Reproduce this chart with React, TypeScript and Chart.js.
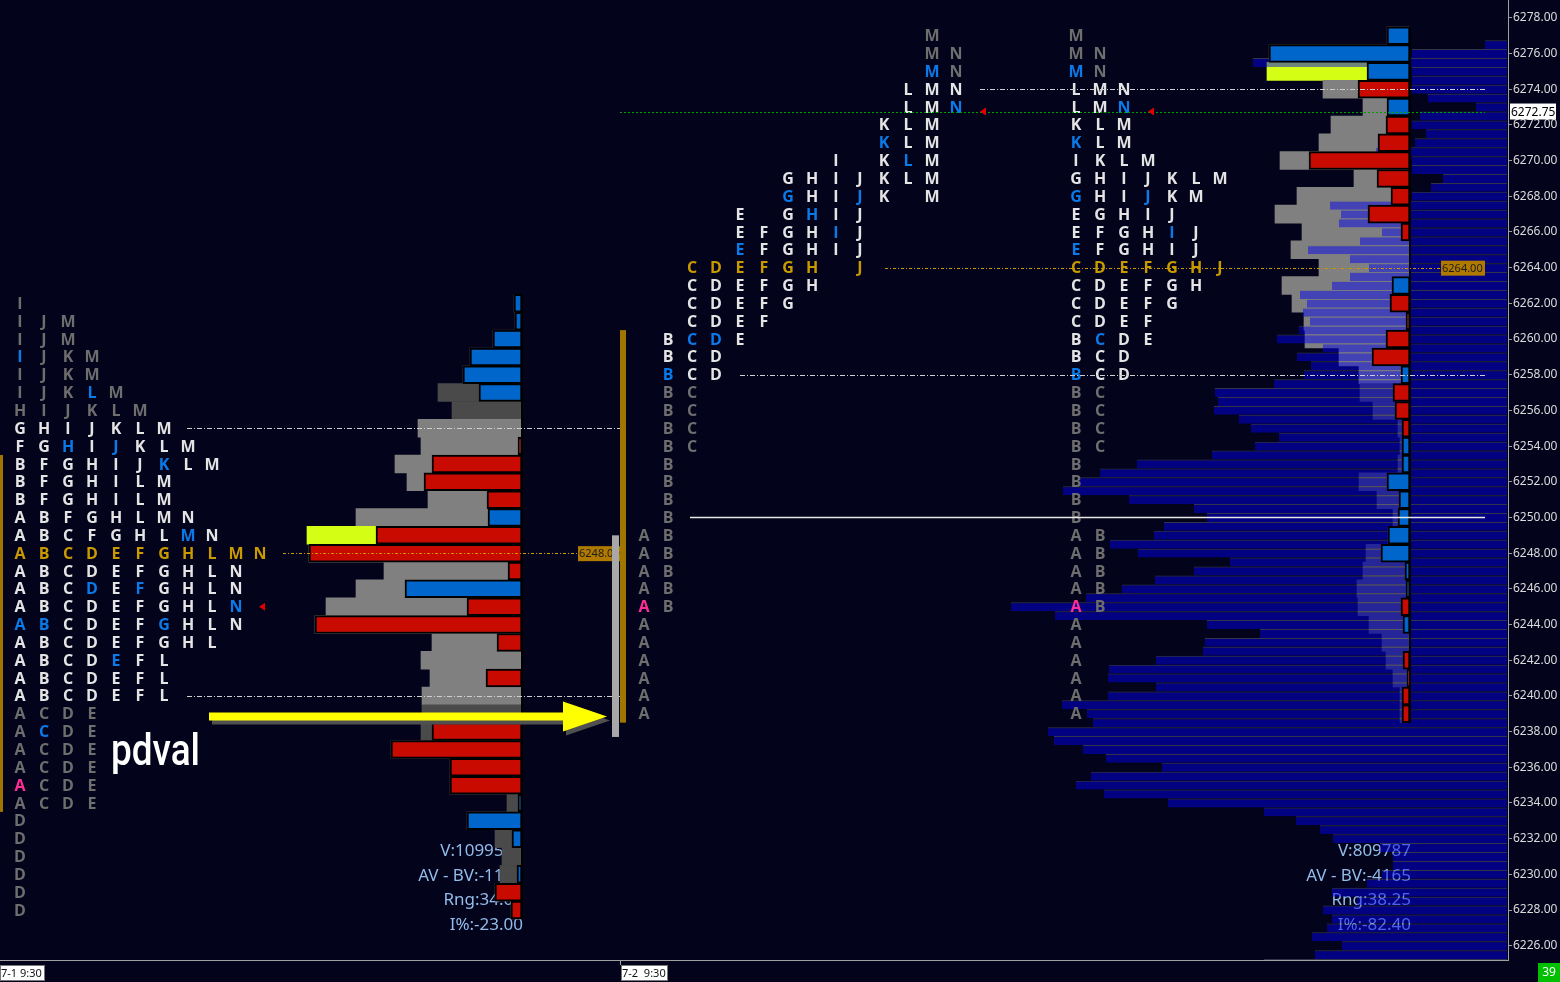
import { useEffect, useRef } from "react";
import { Chart, registerables } from "chart.js";

Chart.register(...registerables);

// ---------------- data ----------------
const priceTicks = [6226, 6228, 6230, 6232, 6234, 6236, 6238, 6240, 6242, 6244, 6246, 6248, 6250, 6252, 6254, 6256, 6258, 6260, 6262, 6264, 6266, 6268, 6270, 6272, 6274, 6276, 6278];
const sessionLabels = ["7-1 9:30", "7-2  9:30"];
const barCountLabel = "39";
const lastPrice = 6272.75;

// Day 1 (7-1): TPO rows from top price downward. "*" = blue, "!" = open (magenta)
const day1TopPrice = 6262;
const day1Tpo = [
  "I", "IJM", "IJM", "I*JKM", "IJKM", "IJKL*M", "HIJKLM", "GHIJKLM",
  "FGH*IJ*KLM", "BFGHIJK*LM", "BFGHILM", "BFGHILM", "ABFGHLMN", "ABCFGHLM*N",
  "ABCDEFGHLMN", "ABCDEFGHLN", "ABCD*EF*GHLN", "ABCDEFGHLN*", "A*B*CDEFG*HLN",
  "ABCDEFGHL", "ABCDE*FL", "ABCDEFL", "ABCDEFL", "ACDE", "AC*DE", "ACDE", "ACDE",
  "A!CDE", "ACDE", "D", "D", "D", "D", "D", "D",
];
const day1Vah = 6255;
const day1Val = 6240;
const day1Poc = 6248;
const day1HighVolPrice = 6249;
const day1Volume = [8, 7, 29, 52, 59, 84, 70, 104, 101, 127, 115, 94, 166, 215, 213, 138, 166, 196, 207, 90, 101, 92, 100, 100, 101, 131, 72, 72, 15, 55, 27, 20, 22, 27, 11];
const day1Delta = [8, 7, 29, 52, 59, 43, 0, 0, -4, -90, -98, -35, 34, -146, -213, -14, 117, -55, -207, -25, 0, -36, 0, 0, -90, -131, -72, -72, 4, 55, 10, 0, 5, -27, -11];
const day1Stats = ["V:1099512", "AV - BV:-1126", "Rng:34.00", "I%:-23.00"];
const day1InitialBalance = [6233.5, 6253.5];

// Day 2 (7-2): "+" = blue only in the split profile
const day2TopPrice = 6277;
const day2Tpo = [
  "M", "MN", "M*N", "LMN", "LMN*", "KLM", "K*LM", "IKL+M", "GHIJKLM", "G*HIJ*KM",
  "EGH+IJ", "EFGHI*J", "E*FGHIJ", "CDEFGHJ", "CDEFGH", "CDEFG", "CDEF", "BC*D+E",
  "BCD", "B*CD", "BC", "BC", "BC", "BC", "B", "B", "B", "B", "AB", "AB", "AB", "AB",
  "A!B", "A", "A", "A", "A", "A", "A",
];
const day2Vah = 6274;
const day2Val = 6258;
const day2Poc = 6264;
const day2HighVolPrice = 6275;
const day2Volume = [23, 141, 143, 87, 47, 79, 91, 130, 56, 113, 135, 108, 119, 91, 128, 118, 106, 105, 71, 51, 50, 37, 12, 10, 12, 51, 33, 17, 22, 44, 47, 53, 52, 41, 28, 24, 17, 10, 10];
const day2Delta = [23, 141, 43, -52, 23, -24, -32, -101, -33, -19, -42, -9, 0, 0, 18, -20, -4, -24, -38, 9, -17, -15, -8, 8, 8, 23, 11, 12, 22, 29, 5, 4, -9, 7, 0, -7, -3, -8, -8];
const day2Stats = ["V:809787", "AV - BV:-4165", "Rng:38.25", "I%:-82.40"];
const day2InitialBalance = [6238.5, 6260.5];
const day2OpeningRange = [6237.7, 6249.0];
const day2Marker = 6250;

// Composite volume profile, half-point rows from the top price downward
const compositeTopPrice = 6276.5;
const compositeStep = 0.5;
const compositeVolume = [
  22, 95, 254, 95, 95, 95, 79, 31, 87, 95,          // 6276.5 - 6272.0
  81, 92, 131, 95, 95, 64, 76, 95, 177, 166,       // 6271.5 - 6267.0
  168, 125, 147, 199, 157, 138, 157, 175, 207, 200, // 6266.5 - 6262.0
  204, 197, 208, 230, 184, 210, 196, 203, 233, 292, // 6261.5 - 6257.0
  289, 293, 268, 256, 228, 252, 295, 370, 407, 427, // 6256.5 - 6252.0
  444, 378, 313, 300, 343, 353, 397, 369, 277, 313, // 6251.5 - 6247.0
  352, 385, 421, 496, 452, 300, 247, 302, 304, 351, // 6246.5 - 6242.0
  398, 399, 351, 399, 445, 420, 414, 459, 453, 424, // 6241.5 - 6237.0
  401, 345, 416, 431, 403, 339, 243, 211, 187, 174, // 6236.5 - 6232.0
  127, 114, 114, 125, 140, 175, 150, 184, 175, 180, // 6231.5 - 6227.0
  195, 165, 192, 243,                               // 6226.5 - 6225.0
];

// ---------------- layout / style ----------------
const X_MAX = 1508;
const Y_MIN = 6225.2;
const Y_MAX = 6279.0;
const ROW_PX = 960 / (Y_MAX - Y_MIN);
const DAY1_ANCHOR = 522;
const DAY2_ANCHOR = 1410;
const COMPOSITE_ANCHOR = 1507;
const DAY1_COL0 = 20;
const DAY2_SPLIT_COL0 = 644;
const DAY2_COL0 = 1076;
const COL_STEP = 24;

const BG = "#03031b";
const C_GRAY_TXT = "#6e6e6e";
const C_WHITE_TXT = "#e4e4e4";
const C_GOLD = "#c99a00";
const C_BLUE_TXT = "#0a7ae8";
const C_MAGENTA = "#ff2d96";
const C_RED = "#c80a00";
const C_BLUE = "#0066cc";
const C_LIGHT = "#808080";
const C_DARK = "#4a4a4a";
const C_HIGH = "#d4ff14";
const C_STATS = "#92bce9";

function parseRow(s: string) {
  const out: { ch: string; mark: string }[] = [];
  for (const c of s) {
    if (c === "*" || c === "+" || c === "!") {
      if (out.length) out[out.length - 1].mark = c;
    } else out.push({ ch: c, mark: "" });
  }
  return out;
}

function volColors(vol: number[], top: number, vah: number, val: number, hi: number) {
  return vol.map((_, i) => {
    const p = top - i;
    if (p === hi) return C_HIGH;
    return p <= vah && p >= val ? C_LIGHT : C_DARK;
  });
}

function deltaPoints(delta: number[], top: number, anchor: number) {
  return delta
    .map((d, i) => ({ d, p: top - i }))
    .filter((o) => o.d !== 0)
    .map((o) => ({ x: [anchor - Math.abs(o.d), anchor], y: o.p, pos: o.d > 0 }));
}

const overlayPlugin = {
  id: "overlay",
  beforeDraw(chart: any) {
    const ctx = chart.ctx;
    ctx.save();
    ctx.fillStyle = BG;
    ctx.fillRect(0, 0, chart.width, chart.height);
    ctx.restore();
  },
  beforeDatasetsDraw(chart: any) {
    const ctx = chart.ctx;
    const xs = chart.scales.x;
    const bottom = chart.chartArea.bottom;
    ctx.save();
    ctx.font = "17px 'Noto Sans', sans-serif";
    ctx.fillStyle = C_STATS;
    ctx.textAlign = "right";
    ctx.textBaseline = "middle";
    const offs = [109, 84, 60, 35];
    day1Stats.forEach((t, i) => ctx.fillText(t, xs.getPixelForValue(DAY1_ANCHOR + 1), bottom - offs[i]));
    day2Stats.forEach((t, i) => ctx.fillText(t, xs.getPixelForValue(DAY2_ANCHOR + 1), bottom - offs[i]));
    ctx.restore();
  },
  afterDatasetsDraw(chart: any) {
    const ctx = chart.ctx;
    const xs = chart.scales.x;
    const ys = chart.scales.y;
    const X = (v: number) => xs.getPixelForValue(v);
    const Y = (p: number) => ys.getPixelForValue(p);

    const hline = (p: number, x0: number, x1: number, color: string, dash: number[], w = 1) => {
      const y = Math.round(Y(p)) + 0.5;
      ctx.save();
      ctx.strokeStyle = color;
      ctx.lineWidth = w;
      ctx.setLineDash(dash);
      ctx.beginPath();
      ctx.moveTo(X(x0), y);
      ctx.lineTo(X(x1), y);
      ctx.stroke();
      ctx.restore();
    };
    const vrect = (x0: number, x1: number, p0: number, p1: number, color: string) => {
      ctx.fillStyle = color;
      ctx.fillRect(X(x0), Y(p1), X(x1) - X(x0), Y(p0) - Y(p1));
    };

    ctx.save();
    // profile edges
    ctx.strokeStyle = "#000";
    ctx.lineWidth = 2;
    ctx.beginPath();
    ctx.moveTo(X(DAY1_ANCHOR), Y(day1TopPrice + 0.5));
    ctx.lineTo(X(DAY1_ANCHOR), Y(day1TopPrice - day1Volume.length + 0.5));
    ctx.moveTo(X(DAY2_ANCHOR), Y(day2TopPrice + 0.5));
    ctx.lineTo(X(DAY2_ANCHOR), Y(day2TopPrice - day2Volume.length + 0.5));
    ctx.stroke();

    // TPO letters
    ctx.font = "bold 16px 'Open Sans', 'Noto Sans', sans-serif";
    ctx.textAlign = "center";
    ctx.textBaseline = "middle";
    const drawTpo = (rows: string[], top: number, vah: number, val: number, poc: number, split: boolean, col0: number) => {
      rows.forEach((s, i) => {
        const p = top - i;
        const base = p === poc ? C_GOLD : p <= vah && p >= val ? C_WHITE_TXT : C_GRAY_TXT;
        parseRow(s).forEach((t, k) => {
          const col = split ? t.ch.charCodeAt(0) - 65 : k;
          let color = base;
          if (t.mark === "!") color = C_MAGENTA;
          else if (t.mark === "*" || (t.mark === "+" && split)) color = C_BLUE_TXT;
          ctx.fillStyle = color;
          ctx.fillText(t.ch, X(col0 + COL_STEP * col), Y(p) + 1);
        });
      });
    };
    drawTpo(day1Tpo, day1TopPrice, day1Vah, day1Val, day1Poc, false, DAY1_COL0);
    drawTpo(day2Tpo, day2TopPrice, day2Vah, day2Val, day2Poc, true, DAY2_SPLIT_COL0);
    drawTpo(day2Tpo, day2TopPrice, day2Vah, day2Val, day2Poc, false, DAY2_COL0);

    // reference lines
    const dashDot = [5, 2, 1, 2];
    hline(day1Vah, 187, 620, "#cfcfcf", dashDot);
    hline(day1Val, 187, 620, "#cfcfcf", dashDot);
    hline(day1Poc, 283, 578, C_GOLD, [3, 2, 1, 2]);
    hline(day2Vah, 980, 1485, "#cfcfcf", dashDot);
    hline(day2Val, 740, 1485, "#cfcfcf", dashDot);
    hline(day2Poc, 885, 1441, C_GOLD, [3, 2, 1, 2]);
    hline(lastPrice, 620, 1485, "#00a000", [2, 2]);
    hline(day2Marker, 690, 1485, "#e8e8e8", [], 1.5);

    // POC price labels
    ctx.font = "11px 'Noto Sans', sans-serif";
    ctx.textAlign = "left";
    const pocLabel = (x0: number, x1: number, p: number) => {
      const y = Y(p);
      ctx.fillStyle = "#b07a00";
      ctx.fillRect(X(x0), y - 7, X(x1) - X(x0), 15);
      ctx.fillStyle = "#1c1c1c";
      ctx.fillText(p.toFixed(2), X(x0) + 1, y + 1);
    };
    pocLabel(578, 620, day1Poc);
    pocLabel(1441, 1485, day2Poc);

    // initial balance / opening range bars
    vrect(0, 3, day1InitialBalance[0], day1InitialBalance[1], "#a07600");
    vrect(620, 626, day2InitialBalance[0], day2InitialBalance[1], "#a07600");
    vrect(612, 619, day2OpeningRange[0], day2OpeningRange[1], "#a8a8a8");

    // red last-price markers
    ctx.fillStyle = "#e00000";
    const tri = (x: number, p: number) => {
      const px = X(x), py = Y(p);
      ctx.beginPath();
      ctx.moveTo(px - 3, py);
      ctx.lineTo(px + 3, py - 4);
      ctx.lineTo(px + 3, py + 4);
      ctx.closePath();
      ctx.fill();
    };
    tri(262, 6245);
    tri(983, lastPrice);
    tri(1151, lastPrice);

    // yellow arrow + annotation
    const ay = Y(6238.85);
    const ax0 = X(209), ax1 = X(607);
    const arrow = (dx: number, dy: number, color: string) => {
      ctx.fillStyle = color;
      ctx.beginPath();
      ctx.moveTo(ax0 + dx, ay - 4 + dy);
      ctx.lineTo(ax1 - 44 + dx, ay - 4 + dy);
      ctx.lineTo(ax1 - 44 + dx, ay - 15 + dy);
      ctx.lineTo(ax1 + dx, ay + dy);
      ctx.lineTo(ax1 - 44 + dx, ay + 15 + dy);
      ctx.lineTo(ax1 - 44 + dx, ay + 4 + dy);
      ctx.lineTo(ax0 + dx, ay + 4 + dy);
      ctx.closePath();
      ctx.fill();
    };
    arrow(3, 4, "#505050");
    arrow(0, 0, "#ffff00");
    ctx.fillStyle = "#ffffff";
    ctx.font = "500 45px 'Roboto', 'Noto Sans', sans-serif";
    ctx.textAlign = "left";
    ctx.textBaseline = "alphabetic";
    const tw = ctx.measureText("pdval").width;
    ctx.translate(X(111), 765);
    ctx.scale(89 / tw, 1);
    ctx.fillText("pdval", 0, 0);
    ctx.restore();
  },
  afterDraw(chart: any) {
    const ctx = chart.ctx;
    const ys = chart.scales.y;
    const area = chart.chartArea;
    ctx.save();
    // last price box on axis
    const ly = ys.getPixelForValue(lastPrice);
    ctx.fillStyle = "#ffffff";
    ctx.fillRect(area.right + 2, ly - 8, 46, 16);
    ctx.fillStyle = "#000000";
    ctx.font = "12px 'Noto Sans', sans-serif";
    ctx.textAlign = "left";
    ctx.textBaseline = "middle";
    ctx.fillText(lastPrice.toFixed(2), area.right + 3, ly + 1);

    // bottom time strip
    ctx.strokeStyle = "#a0a0a0";
    ctx.lineWidth = 1;
    ctx.beginPath();
    ctx.moveTo(0, area.bottom + 0.5);
    ctx.lineTo(area.right, area.bottom + 0.5);
    ctx.moveTo(620.5, area.bottom);
    ctx.lineTo(620.5, area.bottom + 5);
    ctx.stroke();
    const starts = [0, 621];
    ctx.font = "11px 'Noto Sans', sans-serif";
    sessionLabels.forEach((t, i) => {
      const w = i === 0 ? 45 : 47;
      ctx.fillStyle = "#ffffff";
      ctx.fillRect(starts[i], area.bottom + 5, w, 16);
      ctx.strokeStyle = "#777";
      ctx.strokeRect(starts[i] + 0.5, area.bottom + 5.5, w - 1, 15);
      ctx.fillStyle = "#111";
      ctx.fillText(t, starts[i] + 1, area.bottom + 14);
    });
    // bar counter
    ctx.fillStyle = "#00c000";
    ctx.fillRect(1538, area.bottom + 3, 22, 19);
    ctx.fillStyle = "#ffffff";
    ctx.textAlign = "center";
    ctx.font = "12px 'Noto Sans', sans-serif";
    ctx.fillText(barCountLabel, 1549, area.bottom + 13);
    ctx.restore();
  },
};

export default function App() {
  const ref = useRef<HTMLCanvasElement | null>(null);

  useEffect(() => {
    document.body.style.margin = "0";
    document.body.style.background = BG;
    const canvas = ref.current;
    if (!canvas) return;

    const d1Delta = deltaPoints(day1Delta, day1TopPrice, DAY1_ANCHOR);
    const d2Delta = deltaPoints(day2Delta, day2TopPrice, DAY2_ANCHOR);

    const chart = new Chart(canvas, {
      type: "bar",
      data: {
        datasets: [
          {
            label: "day1 delta",
            data: d1Delta as any,
            backgroundColor: d1Delta.map((o) => (o.pos ? C_BLUE : C_RED)),
            borderColor: "#000000",
            borderWidth: 2,
            borderSkipped: false,
            barThickness: ROW_PX,
            grouped: false,
            order: 1,
          } as any,
          {
            label: "day2 delta",
            data: d2Delta as any,
            backgroundColor: d2Delta.map((o) => (o.pos ? C_BLUE : C_RED)),
            borderColor: "#000000",
            borderWidth: 2,
            borderSkipped: false,
            barThickness: ROW_PX,
            grouped: false,
            order: 1,
          } as any,
          {
            label: "composite",
            data: compositeVolume.map((v, i) => ({ x: [COMPOSITE_ANCHOR - v, COMPOSITE_ANCHOR], y: compositeTopPrice - i * compositeStep })) as any,
            backgroundColor: "rgba(0,0,240,0.48)",
            borderColor: "rgba(110,110,130,0.45)",
            borderWidth: { top: 1, bottom: 0, left: 0, right: 0 },
            borderSkipped: false,
            inflateAmount: 0,
            barThickness: ROW_PX * compositeStep,
            grouped: false,
            order: 2,
          } as any,
          {
            label: "day1 volume",
            data: day1Volume.map((v, i) => ({ x: [DAY1_ANCHOR - v, DAY1_ANCHOR], y: day1TopPrice - i })) as any,
            backgroundColor: volColors(day1Volume, day1TopPrice, day1Vah, day1Val, day1HighVolPrice),
            borderWidth: 0,
            barThickness: ROW_PX,
            grouped: false,
            order: 3,
          } as any,
          {
            label: "day2 volume",
            data: day2Volume.map((v, i) => ({ x: [DAY2_ANCHOR - v, DAY2_ANCHOR], y: day2TopPrice - i })) as any,
            backgroundColor: volColors(day2Volume, day2TopPrice, day2Vah, day2Val, day2HighVolPrice),
            borderWidth: 0,
            barThickness: ROW_PX,
            grouped: false,
            order: 3,
          } as any,
        ],
      },
      options: {
        indexAxis: "y",
        responsive: false,
        maintainAspectRatio: false,
        animation: false,
        devicePixelRatio: 1,
        layout: { padding: { left: 0, right: 0, top: 0, bottom: 22 } },
        plugins: { legend: { display: false }, tooltip: { enabled: false } },
        scales: {
          x: { type: "linear", min: 0, max: X_MAX, display: false, offset: false },
          y: {
            type: "linear",
            position: "right",
            min: Y_MIN,
            max: Y_MAX,
            offset: false,
            afterBuildTicks: (axis: any) => {
              axis.ticks = priceTicks.map((value) => ({ value }));
            },
            afterFit: (scale: any) => {
              scale.width = 52;
              scale.paddingTop = 0;
              scale.paddingBottom = 0;
            },
            ticks: {
              color: "#dcdcdc",
              font: { family: "'Noto Sans', sans-serif", size: 12 },
              padding: 1,
              callback: (v: any) => Number(v).toFixed(2),
            },
            grid: { drawOnChartArea: false, tickLength: 4, color: "#9a9a9a", offset: false },
            border: { display: true, color: "#a0a0a0" },
          },
        },
      } as any,
      plugins: [overlayPlugin as any],
    });
    return () => chart.destroy();
  }, []);

  return (
    <div style={{ position: "fixed", left: 0, top: 0, width: 1560, height: 982, background: BG }}>
      <canvas ref={ref} width={1560} height={982} style={{ display: "block" }} />
    </div>
  );
}
